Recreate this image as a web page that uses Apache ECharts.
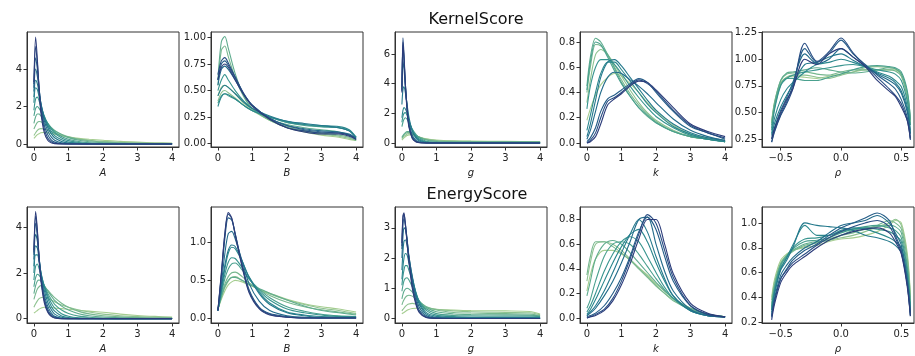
<!DOCTYPE html>
<html><head><meta charset="utf-8">
<script src="https://cdn.jsdelivr.net/npm/echarts@6/dist/echarts.min.js"></script>
<style>html,body{margin:0;padding:0;background:#fff}#c{width:915px;height:356px}</style>
</head><body><div id="c"></div>
<script>
// ---------- data ----------
const X_A = [0,0.05,0.1,0.15,0.2,0.3,0.4,0.5,0.6,0.8,1.0,1.3,1.6,2.0,2.5,3.0,3.5,4.0];
const KS_A = [
 [0.3,0.4,0.5,0.55,0.6,0.62,0.6,0.56,0.52,0.45,0.38,0.3,0.25,0.2,0.14,0.1,0.07,0.05],
 [0.45,0.6,0.72,0.8,0.82,0.8,0.74,0.66,0.58,0.46,0.36,0.26,0.2,0.14,0.09,0.06,0.04,0.03],
 [0.8,1.0,1.15,1.2,1.18,1.08,0.95,0.82,0.7,0.52,0.38,0.25,0.17,0.1,0.06,0.04,0.02,0.02],
 [1.1,1.45,1.6,1.6,1.5,1.3,1.08,0.88,0.72,0.5,0.34,0.2,0.12,0.07,0.04,0.02,0.01,0.01],
 [1.5,1.9,2.0,1.9,1.75,1.4,1.1,0.85,0.65,0.4,0.25,0.13,0.07,0.04,0.02,0.01,0.01,0.01],
 [1.8,2.4,2.5,2.3,2.0,1.5,1.1,0.8,0.58,0.32,0.18,0.08,0.04,0.02,0.01,0.01,0,0],
 [2.2,3.0,2.9,2.5,2.1,1.45,1.0,0.68,0.45,0.22,0.1,0.04,0.02,0.01,0,0,0,0],
 [2.5,3.4,3.2,2.7,2.2,1.4,0.88,0.55,0.33,0.13,0.05,0.02,0.01,0,0,0,0,0],
 [2.8,4.0,3.6,2.9,2.2,1.25,0.7,0.38,0.2,0.06,0.02,0.01,0,0,0,0,0,0],
 [3.0,4.6,4.0,3.0,2.1,1.0,0.5,0.22,0.1,0.02,0.01,0,0,0,0,0,0,0],
 [3.2,5.2,4.3,3.0,1.9,0.8,0.32,0.12,0.04,0.01,0,0,0,0,0,0,0,0],
 [3.3,5.7,4.5,2.9,1.7,0.6,0.2,0.06,0.02,0,0,0,0,0,0,0,0,0]
];
const X_B = [0,0.1,0.2,0.3,0.5,0.75,1.0,1.5,2.0,2.5,3.0,3.5,3.8,4.0];
const KS_B = [
 [0.45,0.53,0.55,0.53,0.47,0.38,0.32,0.22,0.15,0.11,0.08,0.06,0.04,0.03],
 [0.4,0.48,0.5,0.48,0.43,0.36,0.31,0.22,0.16,0.12,0.09,0.07,0.05,0.03],
 [0.55,0.88,0.92,0.82,0.62,0.44,0.33,0.22,0.16,0.12,0.1,0.08,0.06,0.03],
 [0.6,0.96,1.01,0.9,0.66,0.45,0.33,0.23,0.18,0.15,0.13,0.11,0.08,0.04],
 [0.38,0.45,0.47,0.45,0.42,0.36,0.31,0.25,0.2,0.17,0.16,0.15,0.12,0.06],
 [0.5,0.6,0.65,0.6,0.5,0.4,0.33,0.25,0.2,0.18,0.16,0.15,0.12,0.06],
 [0.35,0.44,0.47,0.46,0.42,0.36,0.31,0.25,0.21,0.18,0.17,0.16,0.13,0.06],
 [0.45,0.52,0.55,0.53,0.47,0.39,0.33,0.26,0.21,0.19,0.17,0.15,0.12,0.05],
 [0.55,0.7,0.73,0.7,0.6,0.46,0.36,0.24,0.17,0.14,0.12,0.11,0.09,0.05],
 [0.6,0.75,0.78,0.74,0.62,0.47,0.36,0.24,0.17,0.13,0.11,0.1,0.08,0.04],
 [0.65,0.78,0.81,0.76,0.63,0.47,0.36,0.23,0.15,0.12,0.1,0.1,0.08,0.04],
 [0.6,0.72,0.75,0.72,0.6,0.46,0.35,0.23,0.15,0.11,0.09,0.09,0.07,0.04]
];
const X_G = [0,0.03,0.06,0.1,0.15,0.2,0.3,0.4,0.5,0.7,1.0,1.5,2.0,3.0,4.0];
const KS_G = [
 [0.2,0.28,0.35,0.42,0.5,0.55,0.55,0.48,0.4,0.28,0.2,0.15,0.13,0.11,0.1],
 [0.3,0.38,0.45,0.52,0.6,0.63,0.6,0.5,0.4,0.26,0.17,0.13,0.11,0.1,0.09],
 [0.35,0.45,0.55,0.63,0.7,0.72,0.65,0.52,0.4,0.24,0.14,0.1,0.09,0.08,0.07],
 [0.4,0.5,0.6,0.7,0.78,0.78,0.68,0.52,0.38,0.2,0.1,0.07,0.06,0.06,0.05],
 [1.1,1.4,1.6,1.7,1.6,1.4,0.95,0.6,0.35,0.12,0.05,0.03,0.02,0.02,0.02],
 [1.4,1.8,2.0,2.05,1.85,1.5,0.9,0.5,0.27,0.08,0.03,0.02,0.01,0.01,0.01],
 [1.7,2.2,2.4,2.3,2.0,1.55,0.85,0.43,0.2,0.05,0.02,0.01,0,0,0],
 [2.6,3.6,3.8,3.4,2.6,1.8,0.8,0.35,0.14,0.03,0.01,0,0,0,0],
 [3.5,5.5,5.0,3.8,2.5,1.5,0.55,0.2,0.07,0.01,0,0,0,0,0],
 [3.8,6.6,5.6,4.0,2.4,1.3,0.4,0.13,0.04,0.01,0,0,0,0,0],
 [3.6,7.1,6.0,4.0,2.3,1.2,0.35,0.1,0.03,0,0,0,0,0,0],
 [3.4,6.8,5.8,3.9,2.2,1.1,0.3,0.08,0.02,0,0,0,0,0,0]
];
const X_K = [0,0.1,0.25,0.4,0.6,0.8,1.0,1.25,1.5,1.75,2.0,2.5,3.0,3.5,4.0];
const KS_K = [
 [0.18,0.27,0.38,0.46,0.52,0.55,0.53,0.47,0.4,0.32,0.25,0.14,0.07,0.04,0.02],
 [0.32,0.5,0.7,0.74,0.7,0.62,0.53,0.42,0.32,0.24,0.18,0.1,0.05,0.03,0.01],
 [0.4,0.6,0.78,0.77,0.7,0.6,0.5,0.39,0.3,0.23,0.17,0.09,0.05,0.03,0.01],
 [0.45,0.68,0.83,0.8,0.7,0.59,0.48,0.37,0.28,0.21,0.16,0.09,0.05,0.03,0.01],
 [0.42,0.64,0.8,0.78,0.68,0.57,0.47,0.37,0.28,0.22,0.16,0.09,0.05,0.03,0.01],
 [0.27,0.45,0.6,0.66,0.66,0.62,0.55,0.45,0.36,0.28,0.21,0.12,0.06,0.03,0.01],
 [0.1,0.22,0.4,0.55,0.64,0.64,0.58,0.49,0.4,0.31,0.24,0.13,0.07,0.03,0.01],
 [0.05,0.15,0.34,0.52,0.64,0.66,0.61,0.52,0.43,0.34,0.26,0.15,0.08,0.04,0.02],
 [0.03,0.1,0.25,0.4,0.52,0.56,0.55,0.5,0.45,0.39,0.32,0.19,0.1,0.05,0.02],
 [0.01,0.04,0.12,0.25,0.35,0.38,0.42,0.47,0.51,0.48,0.4,0.25,0.13,0.08,0.03],
 [0,0.02,0.08,0.2,0.33,0.36,0.4,0.46,0.5,0.47,0.41,0.26,0.14,0.08,0.04],
 [0,0.01,0.05,0.15,0.3,0.35,0.39,0.45,0.49,0.48,0.42,0.28,0.15,0.09,0.05]
];
const X_R = [-0.575,-0.55,-0.5,-0.45,-0.4,-0.3,-0.2,-0.1,0,0.1,0.2,0.3,0.4,0.45,0.5,0.55,0.575];
const KS_R = [
 [0.42,0.6,0.78,0.83,0.84,0.83,0.82,0.84,0.86,0.88,0.9,0.9,0.9,0.9,0.85,0.65,0.4],
 [0.4,0.58,0.77,0.83,0.85,0.85,0.83,0.82,0.85,0.88,0.92,0.93,0.92,0.91,0.86,0.66,0.42],
 [0.4,0.6,0.8,0.86,0.87,0.88,0.86,0.85,0.88,0.9,0.9,0.9,0.9,0.89,0.84,0.63,0.38],
 [0.38,0.58,0.8,0.87,0.88,0.9,0.92,0.9,0.88,0.87,0.88,0.9,0.92,0.91,0.86,0.68,0.45],
 [0.35,0.55,0.76,0.82,0.82,0.8,0.8,0.83,0.86,0.9,0.93,0.94,0.93,0.92,0.88,0.7,0.43],
 [0.33,0.53,0.75,0.82,0.85,0.88,0.9,0.92,0.94,0.95,0.93,0.9,0.88,0.86,0.8,0.6,0.38],
 [0.3,0.45,0.62,0.72,0.78,0.88,0.95,0.97,1.0,0.97,0.93,0.88,0.84,0.8,0.74,0.55,0.33],
 [0.28,0.4,0.55,0.66,0.76,0.95,0.97,1.02,1.05,0.99,0.93,0.87,0.82,0.78,0.7,0.52,0.3],
 [0.25,0.36,0.52,0.64,0.78,1.05,0.96,1.0,1.1,1.02,0.94,0.86,0.8,0.76,0.68,0.5,0.3],
 [0.22,0.33,0.48,0.6,0.75,1.1,0.97,1.05,1.18,1.05,0.95,0.85,0.77,0.72,0.62,0.45,0.26],
 [0.22,0.32,0.47,0.58,0.72,1.15,0.98,1.07,1.2,1.06,0.94,0.83,0.72,0.66,0.58,0.42,0.24],
 [0.25,0.35,0.5,0.62,0.72,1.0,0.95,1.05,1.1,1.02,0.93,0.8,0.7,0.65,0.55,0.42,0.25]
];
const ES_A = [
 [0.25,0.3,0.36,0.42,0.46,0.5,0.5,0.49,0.47,0.44,0.41,0.37,0.33,0.28,0.2,0.14,0.1,0.07],
 [0.5,0.65,0.78,0.88,0.92,0.95,0.9,0.82,0.74,0.6,0.5,0.38,0.29,0.2,0.13,0.09,0.07,0.05],
 [0.85,1.1,1.3,1.4,1.45,1.4,1.25,1.08,0.92,0.68,0.5,0.32,0.21,0.13,0.08,0.05,0.04,0.03],
 [1.1,1.45,1.65,1.7,1.65,1.45,1.22,1.0,0.8,0.55,0.38,0.22,0.13,0.07,0.04,0.03,0.02,0.02],
 [1.4,1.8,1.95,1.9,1.78,1.45,1.12,0.85,0.63,0.38,0.23,0.11,0.06,0.03,0.02,0.01,0.01,0.01],
 [1.7,2.3,2.4,2.2,1.95,1.45,1.02,0.7,0.47,0.22,0.11,0.04,0.02,0.01,0,0,0,0],
 [2.0,2.8,2.8,2.5,2.05,1.4,0.9,0.55,0.33,0.12,0.05,0.02,0.01,0,0,0,0,0],
 [2.3,3.2,3.1,2.6,2.05,1.25,0.72,0.4,0.2,0.06,0.02,0,0,0,0,0,0,0],
 [2.6,3.7,3.4,2.7,2.0,1.05,0.55,0.26,0.11,0.02,0,0,0,0,0,0,0,0],
 [2.8,4.2,3.6,2.7,1.9,0.9,0.42,0.18,0.07,0.01,0,0,0,0,0,0,0,0],
 [2.9,4.5,3.8,2.7,1.8,0.8,0.34,0.13,0.04,0,0,0,0,0,0,0,0,0],
 [3.0,4.7,3.9,2.6,1.7,0.7,0.28,0.1,0.03,0,0,0,0,0,0,0,0,0]
];
const X_B2 = [0,0.1,0.2,0.3,0.4,0.5,0.7,0.9,1.2,1.5,2.0,2.5,3.0,3.5,4.0];
const ES_B = [
 [0.12,0.25,0.36,0.44,0.48,0.5,0.48,0.44,0.38,0.33,0.25,0.19,0.15,0.12,0.08],
 [0.12,0.27,0.4,0.49,0.54,0.55,0.5,0.45,0.38,0.32,0.24,0.18,0.13,0.1,0.06],
 [0.12,0.3,0.45,0.55,0.6,0.61,0.55,0.47,0.38,0.3,0.21,0.15,0.11,0.08,0.05],
 [0.11,0.28,0.42,0.5,0.54,0.54,0.5,0.45,0.39,0.33,0.24,0.16,0.1,0.07,0.04],
 [0.1,0.32,0.52,0.65,0.72,0.73,0.64,0.52,0.38,0.27,0.15,0.09,0.05,0.03,0.02],
 [0.1,0.35,0.58,0.74,0.8,0.79,0.67,0.52,0.36,0.24,0.12,0.07,0.04,0.02,0.02],
 [0.1,0.38,0.65,0.86,0.94,0.92,0.75,0.55,0.34,0.2,0.08,0.04,0.02,0.01,0.01],
 [0.1,0.4,0.7,0.9,0.97,0.95,0.76,0.54,0.32,0.18,0.07,0.03,0.01,0.01,0.01],
 [0.1,0.45,0.85,1.12,1.15,1.05,0.76,0.46,0.22,0.1,0.03,0.01,0,0,0],
 [0.1,0.55,1.05,1.33,1.3,1.12,0.72,0.38,0.14,0.06,0.02,0,0,0,0],
 [0.1,0.58,1.1,1.38,1.32,1.12,0.7,0.36,0.13,0.05,0.01,0,0,0,0],
 [0.1,0.6,1.12,1.4,1.33,1.1,0.68,0.34,0.12,0.04,0.01,0,0,0,0]
];
const X_G2 = [0,0.03,0.06,0.1,0.15,0.2,0.3,0.4,0.5,0.7,1.0,1.5,2.0,3.0,3.7,4.0];
const ES_G = [
 [0.15,0.18,0.2,0.23,0.27,0.3,0.33,0.34,0.34,0.32,0.3,0.28,0.26,0.25,0.23,0.15],
 [0.25,0.3,0.34,0.4,0.45,0.48,0.5,0.48,0.44,0.37,0.3,0.25,0.22,0.2,0.19,0.12],
 [0.45,0.55,0.62,0.7,0.75,0.77,0.74,0.65,0.55,0.4,0.28,0.2,0.18,0.16,0.15,0.1],
 [0.65,0.8,0.9,0.97,1.0,0.98,0.88,0.73,0.58,0.37,0.22,0.15,0.13,0.12,0.11,0.08],
 [0.9,1.1,1.25,1.33,1.35,1.28,1.05,0.8,0.58,0.32,0.16,0.1,0.09,0.08,0.08,0.06],
 [1.1,1.4,1.6,1.75,1.75,1.6,1.25,0.88,0.58,0.27,0.11,0.06,0.05,0.05,0.05,0.04],
 [1.3,1.7,2.0,2.15,2.1,1.85,1.35,0.88,0.54,0.2,0.07,0.04,0.03,0.03,0.03,0.02],
 [1.6,2.2,2.55,2.6,2.4,2.05,1.4,0.85,0.48,0.15,0.04,0.02,0.02,0.02,0.02,0.01],
 [2.0,2.7,3.0,2.95,2.6,2.1,1.35,0.75,0.38,0.1,0.02,0.01,0.01,0.01,0.01,0.01],
 [2.3,3.1,3.3,3.1,2.6,2.05,1.2,0.62,0.28,0.06,0.01,0,0,0,0,0],
 [2.4,3.3,3.45,3.15,2.6,2.0,1.1,0.55,0.23,0.04,0.01,0,0,0,0,0],
 [2.5,3.4,3.5,3.1,2.5,1.9,1.0,0.48,0.2,0.03,0,0,0,0,0,0]
];
const X_K2 = [0,0.1,0.25,0.5,0.75,1.0,1.25,1.5,1.75,2.0,2.25,2.5,3.0,3.5,4.0];
const ES_K = [
 [0.22,0.35,0.48,0.55,0.55,0.52,0.47,0.41,0.35,0.28,0.22,0.16,0.08,0.03,0.01],
 [0.3,0.45,0.6,0.62,0.6,0.55,0.48,0.41,0.34,0.27,0.2,0.15,0.07,0.03,0.01],
 [0.35,0.5,0.62,0.62,0.58,0.53,0.47,0.4,0.33,0.26,0.2,0.14,0.07,0.03,0.01],
 [0.18,0.3,0.48,0.6,0.63,0.6,0.53,0.45,0.37,0.29,0.22,0.16,0.08,0.03,0.01],
 [0.08,0.15,0.3,0.5,0.6,0.62,0.6,0.52,0.42,0.32,0.23,0.16,0.07,0.03,0.01],
 [0.05,0.1,0.2,0.38,0.52,0.62,0.66,0.62,0.5,0.37,0.25,0.16,0.06,0.02,0.01],
 [0.03,0.07,0.15,0.3,0.45,0.58,0.68,0.72,0.62,0.45,0.3,0.18,0.06,0.02,0.01],
 [0.02,0.05,0.1,0.22,0.37,0.53,0.68,0.8,0.7,0.5,0.32,0.18,0.06,0.02,0.01],
 [0.02,0.04,0.08,0.18,0.3,0.45,0.62,0.8,0.82,0.6,0.38,0.22,0.07,0.02,0.01],
 [0.01,0.02,0.04,0.1,0.2,0.33,0.5,0.7,0.82,0.72,0.5,0.3,0.1,0.03,0.01],
 [0,0.01,0.03,0.07,0.16,0.3,0.48,0.68,0.84,0.77,0.55,0.33,0.1,0.03,0.01],
 [0,0.01,0.02,0.06,0.14,0.27,0.44,0.64,0.8,0.8,0.6,0.36,0.12,0.04,0.01]
];
const ES_R = [
 [0.4,0.55,0.7,0.75,0.78,0.8,0.82,0.85,0.87,0.88,0.9,0.93,0.98,1.02,1.0,0.75,0.42],
 [0.38,0.53,0.68,0.74,0.78,0.81,0.84,0.86,0.88,0.9,0.93,0.97,1.0,1.03,0.98,0.72,0.4],
 [0.35,0.5,0.66,0.73,0.77,0.82,0.84,0.87,0.9,0.92,0.95,0.98,1.02,1.0,0.95,0.7,0.38],
 [0.33,0.5,0.67,0.74,0.78,0.83,0.85,0.86,0.9,0.94,0.96,0.97,0.98,0.97,0.92,0.65,0.35],
 [0.32,0.48,0.66,0.73,0.79,0.85,0.86,0.88,0.92,0.95,0.97,0.98,0.96,0.94,0.88,0.62,0.33],
 [0.3,0.46,0.64,0.72,0.8,0.87,0.88,0.9,0.93,0.95,0.96,0.95,0.93,0.9,0.85,0.6,0.32],
 [0.3,0.45,0.63,0.72,0.82,0.98,0.9,0.9,0.94,0.96,0.95,0.92,0.88,0.85,0.8,0.55,0.3],
 [0.28,0.43,0.62,0.7,0.8,1.0,0.98,0.97,0.96,0.94,0.9,0.88,0.85,0.82,0.76,0.52,0.28],
 [0.26,0.4,0.58,0.66,0.72,0.8,0.85,0.92,0.98,1.0,1.02,1.06,1.0,0.92,0.82,0.55,0.28],
 [0.24,0.38,0.55,0.63,0.7,0.78,0.83,0.9,0.96,1.0,1.04,1.08,1.02,0.9,0.78,0.5,0.25],
 [0.25,0.38,0.55,0.62,0.68,0.75,0.82,0.88,0.93,0.97,1.0,1.02,0.97,0.88,0.76,0.5,0.26],
 [0.22,0.35,0.52,0.6,0.66,0.73,0.8,0.86,0.9,0.93,0.95,0.96,0.92,0.85,0.75,0.48,0.25]
];
// tick labels
const TICKS_X04 = [0,1,2,3,4];
const TICKS_XR = [-0.5,0,0.5];
const TITLES = ['KernelScore','EnergyScore'];
const NAMES = ['A','B','g','k','\u03c1'];

// ---------- styling / layout ----------
const PALETTE = ['#a5cd90','#8ec290','#77b78f','#5fac8e','#4aa08e','#37948e','#2b878d','#24798c','#226b8a','#245c87','#284d83','#2c3c7a'];
const FONT = 'DejaVu Sans';
const LEFTS = [27,211,395,580,762];
const WIDTH = 152;
const ROWS = [{top:32,height:115},{top:207,height:116}];

const panels = [
 {r:0,c:0,x:X_A,ys:KS_A,xr:[-0.2,4.2],xt:TICKS_X04,xd:0,yr:[-0.16,5.97],yt:[0,2,4],yd:0},
 {r:0,c:1,x:X_B,ys:KS_B,xr:[-0.2,4.2],xt:TICKS_X04,xd:0,yr:[-0.032,1.052],yt:[0,0.25,0.5,0.75,1.0],yd:2},
 {r:0,c:2,x:X_G,ys:KS_G,xr:[-0.2,4.2],xt:TICKS_X04,xd:0,yr:[-0.27,7.49],yt:[0,2,4,6],yd:0},
 {r:0,c:3,x:X_K,ys:KS_K,xr:[-0.2,4.2],xt:TICKS_X04,xd:0,yr:[-0.032,0.879],yt:[0,0.2,0.4,0.6,0.8],yd:1},
 {r:0,c:4,x:X_R,ys:KS_R,xr:[-0.655,0.605],xt:TICKS_XR,xd:1,yr:[0.174,1.256],yt:[0.25,0.5,0.75,1.0,1.25],yd:2},
 {r:1,c:0,x:X_A,ys:ES_A,xr:[-0.2,4.2],xt:TICKS_X04,xd:0,yr:[-0.19,4.9],yt:[0,2,4],yd:0},
 {r:1,c:1,x:X_B2,ys:ES_B,xr:[-0.2,4.2],xt:TICKS_X04,xd:0,yr:[-0.066,1.474],yt:[0,0.5,1.0],yd:1},
 {r:1,c:2,x:X_G2,ys:ES_G,xr:[-0.2,4.2],xt:TICKS_X04,xd:0,yr:[-0.15,3.69],yt:[0,1,2,3],yd:0},
 {r:1,c:3,x:X_K2,ys:ES_K,xr:[-0.2,4.2],xt:TICKS_X04,xd:0,yr:[-0.04,0.902],yt:[0,0.2,0.4,0.6,0.8],yd:1},
 {r:1,c:4,x:X_R,ys:ES_R,xr:[-0.655,0.605],xt:TICKS_XR,xd:1,yr:[0.195,1.128],yt:[0.2,0.4,0.6,0.8,1.0],yd:1}
];

function fmt(d){ return v => Number(v).toFixed(d).replace('-','\u2212'); }
const AX = '#333';
const grid=[], xAxis=[], yAxis=[], series=[];
panels.forEach((p,gi)=>{
  grid.push({left:LEFTS[p.c], top:ROWS[p.r].top, width:WIDTH, height:ROWS[p.r].height,
    show:true, borderColor:AX, borderWidth:1, backgroundColor:'transparent', containLabel:false});
  xAxis.push({type:'value', gridIndex:gi, min:p.xr[0], max:p.xr[1],
    name:NAMES[p.c], nameLocation:'middle', nameGap:21,
    nameTextStyle:{fontFamily:FONT, fontSize:10, fontStyle:'italic', color:'#222'},
    axisLine:{show:true, onZero:false, lineStyle:{color:AX, width:1}},
    axisTick:{show:true, length:3.5, lineStyle:{color:AX}, customValues:p.xt},
    axisLabel:{customValues:p.xt, formatter:fmt(p.xd), fontFamily:FONT, fontSize:10, color:'#222', margin:6},
    splitLine:{show:false}});
  yAxis.push({type:'value', gridIndex:gi, min:p.yr[0], max:p.yr[1],
    axisLine:{show:true, onZero:false, lineStyle:{color:AX, width:1}},
    axisTick:{show:true, length:3.5, lineStyle:{color:AX}, customValues:p.yt},
    axisLabel:{customValues:p.yt, formatter:fmt(p.yd), fontFamily:FONT, fontSize:10, color:'#222', margin:5},
    splitLine:{show:false}});
  const n = p.ys.length;
  p.ys.forEach((y,i)=>{
    const col = PALETTE[Math.round(i*(PALETTE.length-1)/(n-1))];
    series.push({type:'line', xAxisIndex:gi, yAxisIndex:gi,
      data:p.x.map((xv,j)=>[xv,y[j]]), showSymbol:false, symbol:'none',
      smooth:0.3, silent:true,
      lineStyle:{width:1.1, color:col}, itemStyle:{color:col}});
  });
});

const chart = echarts.init(document.getElementById('c'), null, {renderer:'canvas'});
chart.setOption({
  animation:false, backgroundColor:'#fff',
  title:[
    {text:TITLES[0], left:471, top:7, textAlign:'center', textStyle:{fontFamily:FONT, fontSize:16, fontWeight:'normal', color:'#111'}},
    {text:TITLES[1], left:472, top:182, textAlign:'center', textStyle:{fontFamily:FONT, fontSize:16, fontWeight:'normal', color:'#111'}}
  ],
  grid, xAxis, yAxis, series
});
</script></body></html>
